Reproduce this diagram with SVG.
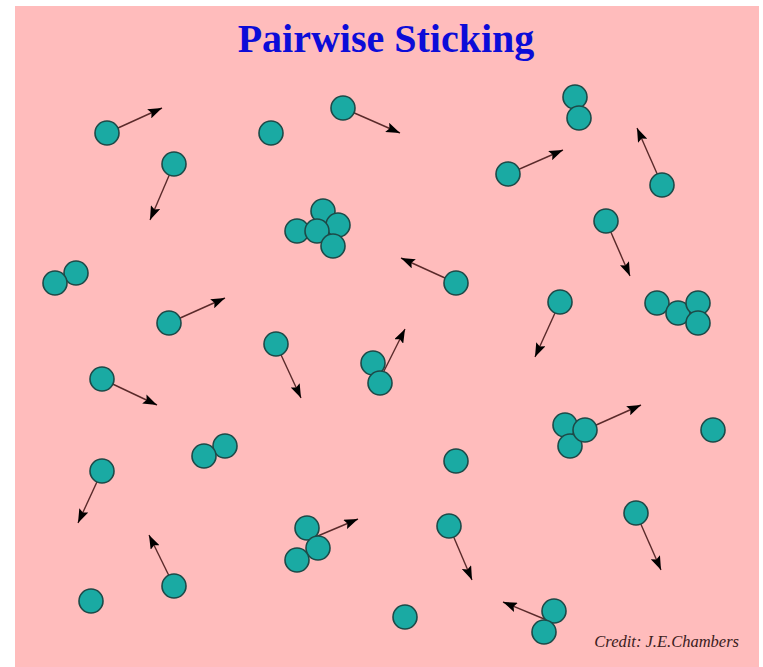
<svg xmlns="http://www.w3.org/2000/svg" width="763" height="667" viewBox="0 0 763 667">
<style>
.p circle{fill:#1aaaa3;stroke:#1d4a48;stroke-width:1.6}
.c line{stroke:#5a2a2a;stroke-width:1.4;marker-end:url(#ah)}
.title{font-family:"Liberation Serif",serif;font-weight:bold;font-size:40px;fill:#0c0cd8}
.credit{font-family:"Liberation Serif",serif;font-style:italic;font-size:16.5px;fill:#3a2020}
</style>
<defs>
<marker id="ah" viewBox="0 0 14 10" refX="14" refY="5" markerWidth="14" markerHeight="10" markerUnits="userSpaceOnUse" orient="auto">
<path d="M0,0 L14,5 L0,10 L2.5,5 z" fill="#000"/>
</marker>
</defs>
<rect x="0" y="0" width="763" height="667" fill="#fff"/>
<rect x="15" y="6" width="744" height="661" fill="#ffbcbc"/>
<text class="title" x="386" y="52" text-anchor="middle">Pairwise Sticking</text>
<text class="credit" x="739" y="647" text-anchor="end">Credit: J.E.Chambers</text>
<g id="connectors" class="c">
<line x1="107" y1="133" x2="162" y2="108"/>
<line x1="343" y1="108" x2="400" y2="133"/>
<line x1="174" y1="164" x2="150" y2="220"/>
<line x1="508" y1="174" x2="563" y2="150"/>
<line x1="662" y1="185" x2="637" y2="128"/>
<line x1="606" y1="221" x2="630" y2="276"/>
<line x1="456" y1="283" x2="401" y2="258"/>
<line x1="169" y1="323" x2="225" y2="298"/>
<line x1="560" y1="302" x2="535" y2="357"/>
<line x1="276" y1="344" x2="301" y2="398"/>
<line x1="383" y1="373" x2="405" y2="329"/>
<line x1="102" y1="379" x2="157" y2="405"/>
<line x1="585" y1="430" x2="641" y2="405"/>
<line x1="102" y1="471" x2="78" y2="523"/>
<line x1="313" y1="538" x2="358" y2="519"/>
<line x1="449" y1="526" x2="472" y2="580"/>
<line x1="636" y1="513" x2="661" y2="570"/>
<line x1="174" y1="586" x2="149" y2="535"/>
<line x1="549" y1="621" x2="503" y2="602"/>
</g>
<g class="p">
<g id="n1"><circle cx="107" cy="133" r="12"/></g>
<g id="n2"><circle cx="271" cy="133" r="12"/></g>
<g id="n3"><circle cx="343" cy="108" r="12"/></g>
<g id="n4"><circle cx="575" cy="97" r="12"/><circle cx="579" cy="118" r="12"/></g>
<g id="n5"><circle cx="174" cy="164" r="12"/></g>
<g id="n6"><circle cx="508" cy="174" r="12"/></g>
<g id="n7"><circle cx="662" cy="185" r="12"/></g>
<g id="n8"><circle cx="323" cy="211" r="12"/><circle cx="338" cy="225" r="12"/><circle cx="297" cy="231" r="12"/><circle cx="317" cy="231" r="12"/><circle cx="333" cy="246" r="12"/></g>
<g id="n9"><circle cx="606" cy="221" r="12"/></g>
<g id="n10"><circle cx="76" cy="273" r="12"/><circle cx="55" cy="283" r="12"/></g>
<g id="n11"><circle cx="456" cy="283" r="12"/></g>
<g id="n12"><circle cx="169" cy="323" r="12"/></g>
<g id="n13"><circle cx="560" cy="302" r="12"/></g>
<g id="n14"><circle cx="657" cy="303" r="12"/><circle cx="678" cy="313" r="12"/><circle cx="698" cy="303" r="12"/><circle cx="698" cy="323" r="12"/></g>
<g id="n15"><circle cx="276" cy="344" r="12"/></g>
<g id="n16"><circle cx="373" cy="363" r="12"/><circle cx="380" cy="383" r="12"/></g>
<g id="n17"><circle cx="102" cy="379" r="12"/></g>
<g id="n18"><circle cx="565" cy="425" r="12"/><circle cx="570" cy="446" r="12"/><circle cx="585" cy="430" r="12"/></g>
<g id="n19"><circle cx="225" cy="446" r="12"/><circle cx="204" cy="456" r="12"/></g>
<g id="n20"><circle cx="713" cy="430" r="12"/></g>
<g id="n21"><circle cx="456" cy="461" r="12"/></g>
<g id="n22"><circle cx="102" cy="471" r="12"/></g>
<g id="n23"><circle cx="307" cy="528" r="12"/><circle cx="318" cy="548" r="12"/><circle cx="297" cy="560" r="12"/></g>
<g id="n24"><circle cx="449" cy="526" r="12"/></g>
<g id="n25"><circle cx="636" cy="513" r="12"/></g>
<g id="n26"><circle cx="174" cy="586" r="12"/></g>
<g id="n27"><circle cx="91" cy="601" r="12"/></g>
<g id="n28"><circle cx="405" cy="617" r="12"/></g>
<g id="n29"><circle cx="554" cy="611" r="12"/><circle cx="544" cy="632" r="12"/></g>
</g>
</svg>
